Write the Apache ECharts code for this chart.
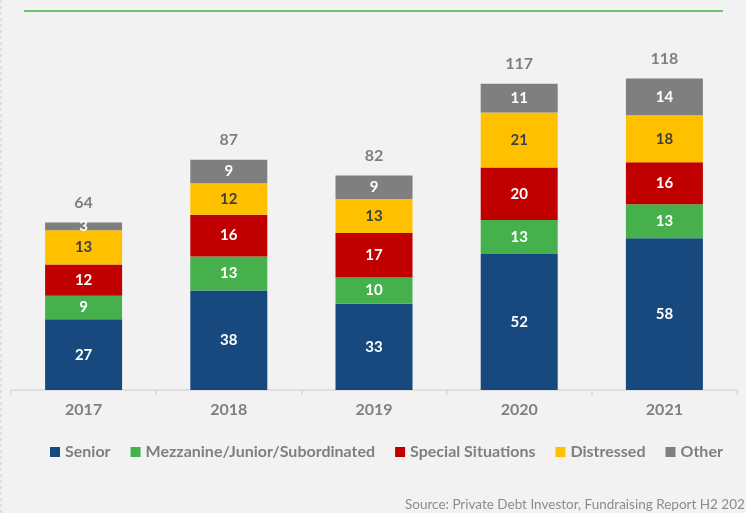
<!DOCTYPE html>
<html>
<head>
<meta charset="utf-8">
<script src="https://cdn.jsdelivr.net/npm/echarts@6/dist/echarts.min.js"></script>
<style>
  html, body { margin: 0; padding: 0; background: #f2f2f2; }
  #chart { width: 746px; height: 513px; }
</style>
</head>
<body>
<div id="chart"></div>
<script>
var years = ['2017', '2018', '2019', '2020', '2021'];
var senior = [27, 38, 33, 52, 58];
var mezzanine = [9, 13, 10, 13, 13];
var special = [12, 16, 17, 20, 16];
var distressed = [13, 12, 13, 21, 18];
var other = [3, 9, 9, 11, 14];
var totals = [64, 87, 82, 117, 118];

var chart = echarts.init(document.getElementById('chart'));
var font = 'Lato, "Open Sans", sans-serif';

function seg(name, data, color, labelColor) {
    return {
        name: name,
        type: 'bar',
        stack: 'total',
        barWidth: 77,
        data: data,
        itemStyle: { color: color },
        label: {
            show: true,
            position: 'inside',
            color: labelColor,
            fontFamily: font,
            fontWeight: 'bold',
            fontSize: 15
        }
    };
}

var series = [
    seg('Senior', senior, '#17497f', '#ffffff'),
    seg('Mezzanine/Junior/Subordinated', mezzanine, '#45b04c', '#ffffff'),
    seg('Special Situations', special, '#c00000', '#ffffff'),
    seg('Distressed', distressed, '#ffc000', '#404040'),
    seg('Other', other, '#7f7f7f', '#ffffff'),
    {
        name: 'Total',
        type: 'bar',
        stack: 'total',
        barWidth: 77,
        data: years.map(function () { return 0; }),
        itemStyle: { color: 'transparent' },
        label: {
            show: true,
            position: 'top',
            distance: 12,
            color: '#7f7f7f',
            fontFamily: font,
            fontWeight: 'bold',
            fontSize: 16,
            formatter: function (p) { return totals[p.dataIndex]; }
        }
    }
];

chart.setOption({
    backgroundColor: '#f2f2f2',
    animation: false,
    grid: { left: 11, right: 9, top: 21, bottom: 123 },
    legend: {
        data: ['Senior', 'Mezzanine/Junior/Subordinated', 'Special Situations', 'Distressed', 'Other'],
        left: 45,
        top: 439,
        itemWidth: 10,
        itemHeight: 10,
        itemGap: 20,
        icon: 'rect',
        textStyle: { color: '#7f7f7f', fontFamily: font, fontWeight: 'bold', fontSize: 16 }
    },
    xAxis: {
        type: 'category',
        data: years,
        axisLine: { lineStyle: { color: '#d9d9d9', width: 1.5 } },
        axisTick: { show: true, length: 5, lineStyle: { color: '#d9d9d9', width: 1.5 } },
        axisLabel: { color: '#7f7f7f', fontFamily: font, fontWeight: 'bold', fontSize: 16, margin: 12 }
    },
    yAxis: {
        type: 'value',
        min: 0,
        max: 141,
        show: false,
        splitLine: { show: false }
    },
    graphic: [
        {
            type: 'line',
            shape: { x1: 24, y1: 11, x2: 723, y2: 11 },
            style: { stroke: '#6cc46c', lineWidth: 2 }
        },
        {
            type: 'line',
            shape: { x1: 1, y1: 0, x2: 1, y2: 513 },
            style: { stroke: '#e0e0e0', lineWidth: 2, lineDash: [3, 3] }
        },
        {
            type: 'text',
            left: 405,
            top: 498,
            style: {
                text: 'Source: Private Debt Investor, Fundraising Report H2 2021',
                fill: '#8c8c8c',
                font: '13.5px ' + font
            }
        }
    ],
    series: series
});
</script>
</body>
</html>
